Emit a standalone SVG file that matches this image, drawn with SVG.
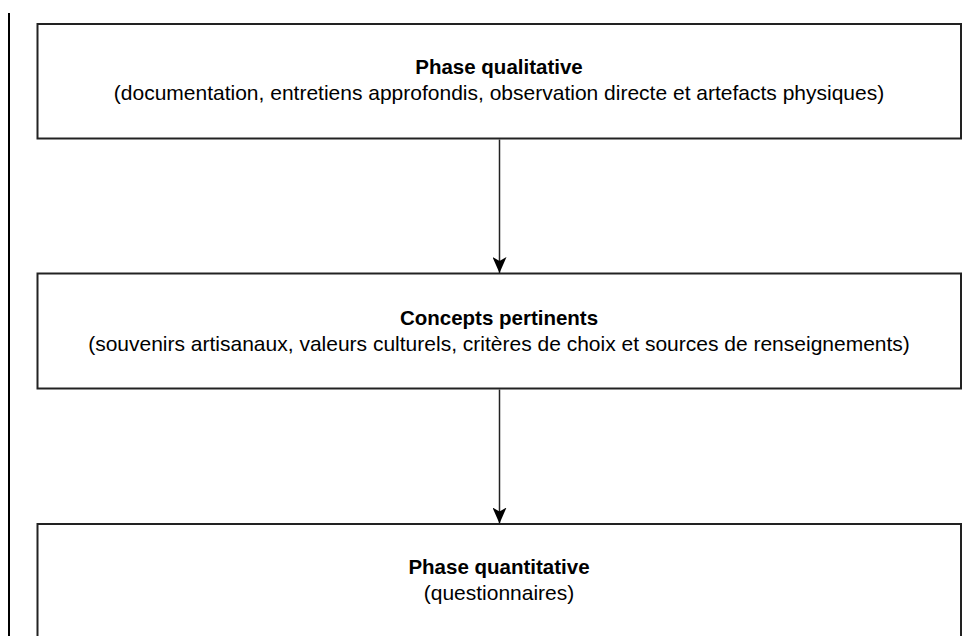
<svg xmlns="http://www.w3.org/2000/svg" width="979" height="636" viewBox="0 0 979 636">
<style>
.box{fill:#fff;stroke:#222;stroke-width:2}
.t{font-family:"Liberation Sans",Arial,sans-serif;font-size:21px;fill:#000;text-anchor:middle}
.b{font-weight:bold;font-size:20.5px}
.c{stroke:#222;stroke-width:1.5;fill:none}
</style>
<defs>
<marker id="ah" markerWidth="16" markerHeight="14" refX="16" refY="7" orient="auto" markerUnits="userSpaceOnUse">
<path d="M0,0 L16,7 L0,14 L4,7 Z" fill="#000"/>
</marker>
</defs>
<rect width="979" height="636" fill="#fff"/>
<line x1="9" y1="13" x2="9" y2="636" stroke="#000" stroke-width="2"/>
<g id="n1">
<rect class="box" x="37.5" y="24" width="923.5" height="114.5"/>
<text class="t b" x="499" y="74">Phase qualitative</text>
<text class="t" x="499" y="100">(documentation, entretiens approfondis, observation directe et artefacts physiques)</text>
</g>
<g id="n2">
<rect class="box" x="37.5" y="273.5" width="923.5" height="115"/>
<text class="t b" x="499" y="325">Concepts pertinents</text>
<text class="t" x="499" y="351">(souvenirs artisanaux, valeurs culturels, critères de choix et sources de renseignements)</text>
</g>
<g id="n3">
<rect class="box" x="37.5" y="524" width="923.5" height="130"/>
<text class="t b" x="499" y="574">Phase quantitative</text>
<text class="t" x="499" y="600">(questionnaires)</text>
</g>
<g id="connectors">
<line class="c" x1="499.5" y1="139.5" x2="499.5" y2="273" marker-end="url(#ah)"/>
<line class="c" x1="499.5" y1="389.5" x2="499.5" y2="523.5" marker-end="url(#ah)"/>
</g>
</svg>
